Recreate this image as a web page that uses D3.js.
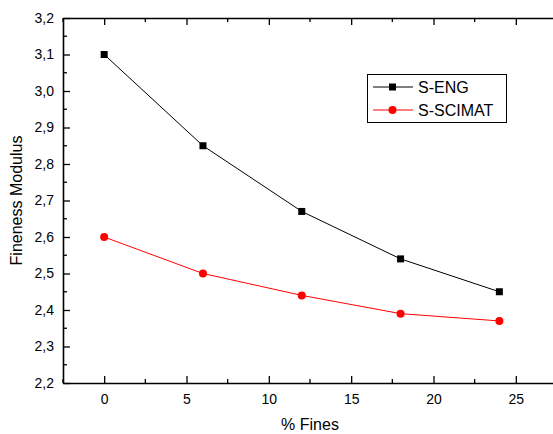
<!DOCTYPE html>
<html lang="en">
<head>
    <meta charset="UTF-8"/>
    <title>Fineness Modulus vs % Fines</title>
    <script src="https://d3js.org/d3.v7.min.js"></script>
    <style>
        body { margin: 0; background: #fff; }
        svg { display: block; font-family: "Liberation Sans", Arial, sans-serif; }
        .line { fill: none; stroke-width: 1px; }
        .domain { stroke: #000; stroke-width: 1.6px; }
    </style>
</head>
<body>
    <script>
        var w = 553;
        var h = 434;

        // data
        var fines = [0, 6, 12, 18, 24];
        var sEng = [3.10, 2.85, 2.67, 2.54, 2.45];
        var sScimat = [2.60, 2.50, 2.44, 2.39, 2.37];
        var seriesNames = ["S-ENG", "S-SCIMAT"];
        var xTicks = [0, 5, 10, 15, 20, 25];
        var yTicks = [2.2, 2.3, 2.4, 2.5, 2.6, 2.7, 2.8, 2.9, 3.0, 3.1, 3.2];

        var padL = 63, padR = 557, padT = 18, padB = 383;

        var xScale = d3.scaleLinear().domain([-2.5, 27.5]).range([padL, padR]);
        var yScale = d3.scaleLinear().domain([2.2, 3.2]).range([padB, padT]);

        var svg = d3.select("body").append("svg")
            .attr("width", w)
            .attr("height", h);

        var fmt = function(d) { return d3.format(".1f")(d).replace(".", ","); };

        // minor ticks (half steps)
        var xMinor = d3.range(-2.5, 27.6, 2.5).filter(function(d) { return xTicks.indexOf(d) < 0; });
        var yMinor = d3.range(2.25, 3.2, 0.1);

        // bottom axis
        var gx = svg.append("g").attr("transform", "translate(0," + padB + ")");
        gx.call(d3.axisBottom(xScale).tickValues(xTicks).tickSizeInner(-7).tickSizeOuter(0).tickPadding(11));
        gx.selectAll(".tick line").attr("stroke-width", 1.3);
        gx.selectAll(".tick text").attr("font-size", 14).attr("fill", "#000");
        gx.selectAll(".minor").data(xMinor).enter().append("line")
            .attr("x1", function(d) { return xScale(d); })
            .attr("x2", function(d) { return xScale(d); })
            .attr("y1", 0).attr("y2", -4)
            .attr("stroke", "#000").attr("stroke-width", 1.3);

        // top axis (ticks only)
        var gt = svg.append("g").attr("transform", "translate(0," + padT + ")");
        gt.call(d3.axisTop(xScale).tickValues(xTicks).tickSizeInner(-7).tickSizeOuter(0).tickFormat(""));
        gt.selectAll(".tick line").attr("stroke-width", 1.3);
        gt.selectAll(".minor").data(xMinor).enter().append("line")
            .attr("x1", function(d) { return xScale(d); })
            .attr("x2", function(d) { return xScale(d); })
            .attr("y1", 0).attr("y2", 4)
            .attr("stroke", "#000").attr("stroke-width", 1.3);

        // left axis
        var gy = svg.append("g").attr("transform", "translate(" + padL + ",0)");
        gy.call(d3.axisLeft(yScale).tickValues(yTicks).tickFormat(fmt).tickSizeInner(-7).tickSizeOuter(0).tickPadding(9));
        gy.selectAll(".tick line").attr("stroke-width", 1.3);
        gy.selectAll(".tick text").attr("font-size", 14).attr("fill", "#000");
        gy.selectAll(".minor").data(yMinor).enter().append("line")
            .attr("y1", function(d) { return yScale(d); })
            .attr("y2", function(d) { return yScale(d); })
            .attr("x1", 0).attr("x2", 4)
            .attr("stroke", "#000").attr("stroke-width", 1.3);

        // axis titles
        svg.append("text")
            .attr("x", 310)
            .attr("y", 430)
            .attr("text-anchor", "middle")
            .attr("font-size", 16)
            .text("% Fines");

        svg.append("text")
            .attr("transform", "translate(22," + ((padT + padB) / 2) + ") rotate(-90)")
            .attr("text-anchor", "middle")
            .attr("font-size", 16)
            .text("Fineness Modulus");

        var line = d3.line()
            .x(function(d) { return xScale(d[0]); })
            .y(function(d) { return yScale(d[1]); });

        var engData = d3.zip(fines, sEng);
        var sciData = d3.zip(fines, sScimat);

        svg.append("path").datum(engData).attr("class", "line")
            .attr("stroke", "#000").attr("d", line);
        svg.append("path").datum(sciData).attr("class", "line")
            .attr("stroke", "#ff0000").attr("d", line);

        svg.selectAll(".sq").data(engData).enter().append("rect")
            .attr("x", function(d) { return xScale(d[0]) - 3.5; })
            .attr("y", function(d) { return yScale(d[1]) - 3.5; })
            .attr("width", 7).attr("height", 7)
            .attr("fill", "#000");

        svg.selectAll(".dot").data(sciData).enter().append("circle")
            .attr("cx", function(d) { return xScale(d[0]); })
            .attr("cy", function(d) { return yScale(d[1]); })
            .attr("r", 4)
            .attr("fill", "#ff0000");

        // legend
        var lg = svg.append("g");
        lg.append("rect")
            .attr("x", 367.5).attr("y", 74.5)
            .attr("width", 139).attr("height", 48)
            .attr("fill", "#fff").attr("stroke", "#000").attr("stroke-width", 1);

        var rows = lg.selectAll(".row").data(seriesNames).enter().append("g")
            .attr("transform", function(d, i) { return "translate(0," + (87 + i * 23) + ")"; });
        rows.append("line")
            .attr("x1", 373).attr("x2", 413).attr("y1", 0).attr("y2", 0)
            .attr("stroke", function(d, i) { return i === 0 ? "#000" : "#ff0000"; });
        rows.each(function(d, i) {
            var g = d3.select(this);
            if (i === 0) {
                g.append("rect").attr("x", 389).attr("y", -3.5).attr("width", 7).attr("height", 7).attr("fill", "#000");
            } else {
                g.append("circle").attr("cx", 392.5).attr("cy", 0).attr("r", 4).attr("fill", "#ff0000");
            }
        });
        rows.append("text")
            .attr("x", 418).attr("y", 5.5)
            .attr("font-size", 16)
            .text(function(d) { return d; });
    </script>
</body>
</html>
